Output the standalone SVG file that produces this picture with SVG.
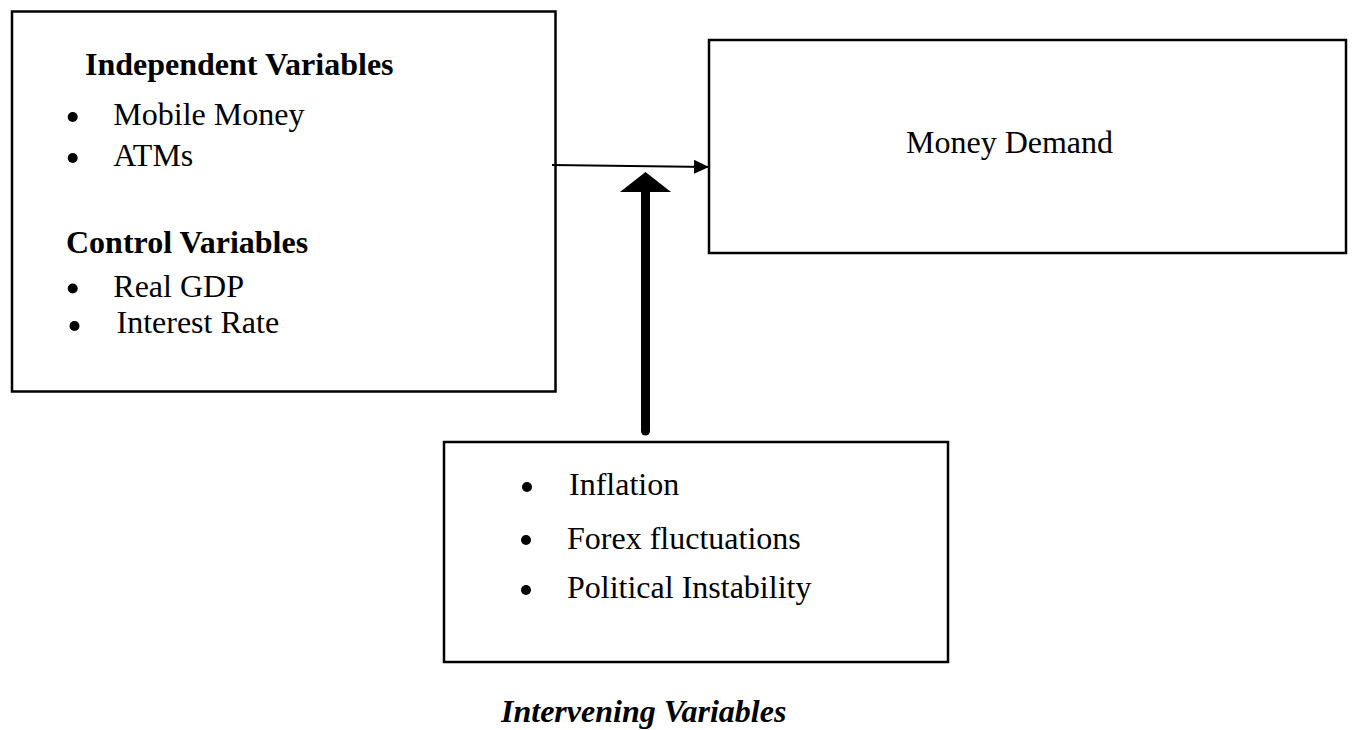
<svg xmlns="http://www.w3.org/2000/svg" width="1352" height="730" viewBox="0 0 1352 730">
<style>
.box{fill:#fff;stroke:#000;stroke-width:2.5}
.t{font-family:"Liberation Serif","Times New Roman",serif;font-size:32px;fill:#000}
.b{font-weight:bold}
.bi{font-weight:bold;font-style:italic}
.dot{fill:#000}
</style>
<defs>
<marker id="ah" markerWidth="16" markerHeight="14" refX="15" refY="7" orient="auto" markerUnits="userSpaceOnUse">
<path d="M0,0 L15,7 L0,14 Z" fill="#000"/>
</marker>
</defs>
<rect width="1352" height="730" fill="#fff"/>
<g id="independent">
<rect class="box" x="12" y="11.5" width="543.5" height="380"/>
<text class="t b" x="85" y="75">Independent Variables</text>
<circle class="dot" cx="72.7" cy="117" r="5"/>
<text class="t" x="113.3" y="125">Mobile Money</text>
<circle class="dot" cx="72.7" cy="158" r="5"/>
<text class="t" x="113.3" y="166">ATMs</text>
<text class="t b" x="66" y="252.7">Control Variables</text>
<circle class="dot" cx="72.7" cy="288.5" r="5"/>
<text class="t" x="113.3" y="296.7">Real GDP</text>
<circle class="dot" cx="74.5" cy="326" r="5"/>
<text class="t" x="116.5" y="333">Interest Rate</text>
</g>
<g id="money-demand">
<rect class="box" x="709" y="40" width="637" height="213"/>
<text class="t" x="906" y="153">Money Demand</text>
</g>
<g id="intervening">
<rect class="box" x="444" y="442" width="504" height="220"/>
<circle class="dot" cx="527" cy="487" r="5"/>
<text class="t" x="569" y="495">Inflation</text>
<circle class="dot" cx="526" cy="540" r="5"/>
<text class="t" x="567" y="549">Forex fluctuations</text>
<circle class="dot" cx="526" cy="590" r="5"/>
<text class="t" x="567" y="598">Political Instability</text>
</g>
<g id="intervening-label">
<text class="t bi" x="501" y="722">Intervening Variables</text>
</g>
<g id="connectors">
<line x1="552" y1="165" x2="709" y2="167" stroke="#000" stroke-width="2" marker-end="url(#ah)"/>
<line x1="645.5" y1="190" x2="645.5" y2="431" stroke="#000" stroke-width="9" stroke-linecap="round"/>
<path d="M645.5,172 L671,192 L620,192 Z" fill="#000"/>
</g>
</svg>
